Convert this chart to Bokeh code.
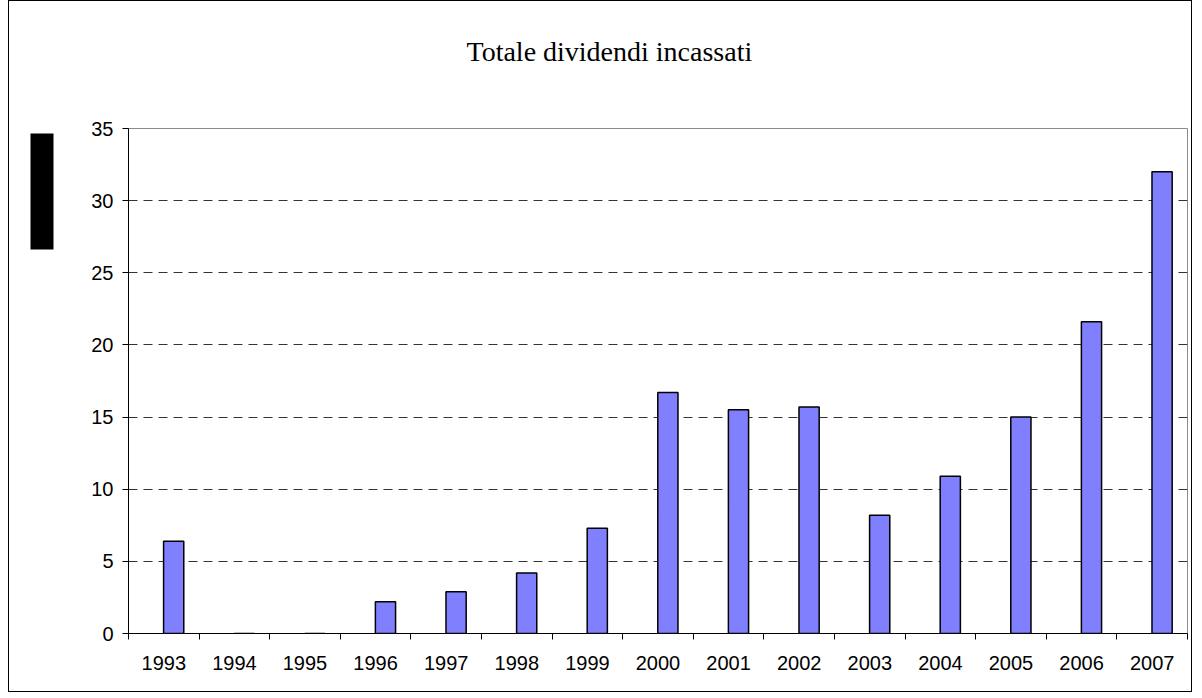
import numpy as np
from bokeh.plotting import figure
from bokeh.models import (ColumnDataSource, FixedTicker, Range1d, Title)
from bokeh.embed import file_html
from bokeh.resources import INLINE

# ---- data ----
years = ["1993", "1994", "1995", "1996", "1997", "1998", "1999", "2000",
         "2001", "2002", "2003", "2004", "2005", "2006", "2007"]
dividendi = [6.4, 0.0, 0.0, 2.2, 2.9, 4.2, 7.3, 16.7, 15.5, 15.7, 8.2, 10.9, 15.0, 21.6, 32.0]
y_ticks = [0, 5, 10, 15, 20, 25, 30, 35]
title_text = "Totale dividendi incassati"

n = len(years)
idx = np.arange(n)
centers = idx + 0.5
src = ColumnDataSource(dict(x=centers + 0.14, top=dividendi, year=years))

p = figure(width=1184, height=692, output_backend="svg", toolbar_location=None,
           x_range=Range1d(0, n), y_range=Range1d(0, 35),
           min_border_left=119, min_border_right=6, min_border_top=127, min_border_bottom=60,
           margin=(0, 0, 0, 8))
p.styles = {"border": "1px solid black"}
p.background_fill_color = "white"
p.border_fill_color = "white"
p.outline_line_color = "#8c8c8c"
p.outline_line_width = 1

p.vbar(x="x", top="top", width=0.286, bottom=0, source=src,
       fill_color="#8080FF", line_color="black", line_width=1.5)

# y axis
p.yaxis.ticker = FixedTicker(ticks=y_ticks)
p.yaxis.axis_line_color = "black"
p.yaxis.major_tick_line_color = "black"
p.yaxis.major_tick_out = 6
p.yaxis.major_tick_in = 0
p.yaxis.minor_tick_line_color = None
p.yaxis.major_label_standoff = 9
p.yaxis.major_label_text_font = "Liberation Sans"
p.yaxis.major_label_text_font_size = "20px"
p.yaxis.major_label_text_color = "black"

# x axis: labels at centres, ticks at category boundaries
p.xaxis.ticker = FixedTicker(ticks=list(centers), minor_ticks=list(range(n + 1)))
p.xaxis.major_label_overrides = {float(c): y for c, y in zip(centers, years)}
p.xaxis.axis_line_color = "black"
p.xaxis.major_tick_line_color = None
p.xaxis.major_tick_out = 0
p.xaxis.major_tick_in = 0
p.xaxis.minor_tick_line_color = "black"
p.xaxis.minor_tick_out = 6
p.xaxis.minor_tick_in = 0
p.xaxis.major_label_standoff = 16
p.xaxis.major_label_text_font = "Liberation Sans"
p.xaxis.major_label_text_font_size = "20px"
p.xaxis.major_label_text_color = "black"

# grid
p.xgrid.grid_line_color = None
p.ygrid.ticker = FixedTicker(ticks=y_ticks)
p.ygrid.grid_line_color = "#333333"
p.ygrid.grid_line_dash = "9 6"
p.ygrid.grid_line_width = 1

# title (outermost) with a spacer between it and the frame
p.title = Title(text=title_text, align="left", offset=338, standoff=0,
                text_font="Liberation Serif", text_font_size="28px",
                text_font_style="normal", text_color="black")
p.add_layout(Title(text=" ", text_font_size="1px", standoff=59), "above")

# spacer between y axis and the blacked-out y-axis label block
p.add_layout(Title(text=" ", text_font_size="1px", standoff=32), "left")
p.add_layout(Title(text="\u2003" * 6, align="right", offset=5, standoff=0,
                   text_font="Liberation Sans", text_font_size="19px",
                   padding=(1, 1),
                   background_fill_color="black", background_fill_alpha=1,
                   text_color="black"), "left")

open("out.html", "w").write(file_html(p, INLINE))
